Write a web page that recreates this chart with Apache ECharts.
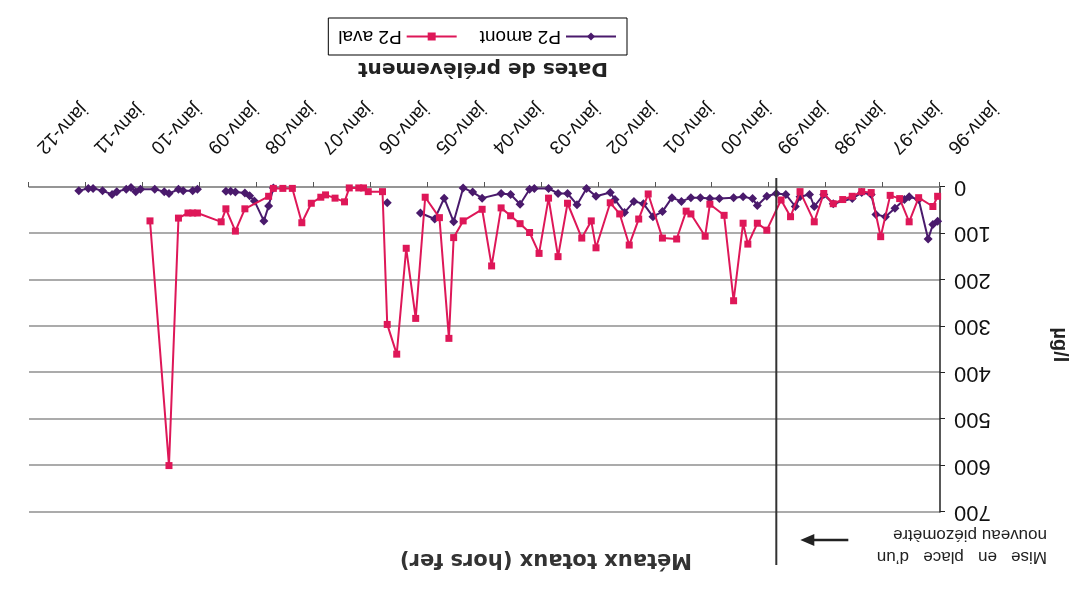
<!DOCTYPE html>
<html>
<head>
<meta charset="utf-8">
<script src="https://cdn.jsdelivr.net/npm/echarts@6/dist/echarts.min.js"></script>
<style>
  html, body { margin: 0; padding: 0; background: #ffffff; }
  #chart { width: 1089px; height: 596px; transform: rotate(180deg); }
</style>
</head>
<body>
<div id="chart"></div>
<script>
// Labels
const titleText = 'Métaux totaux (hors fer)';
const xAxisTitle = 'Dates de prélèvement';
const yAxisTitle = 'µg/l';
const seriesNames = ['P2 amont', 'P2 aval'];
const noteLines = ['Mise   en   place   d\u2019un', 'nouveau piézomètre'];
const noteDate = '1998-11';
const monthPrefix = 'janv-';

// Axis ranges
const yearMin = 1996, yearMax = 2012, yearStep = 1;
const yMin = 0, yMax = 700, yStep = 100;

// P2 amont (sampling month, total metals in µg/l); null marks a break in the record
const amontDates = [
  '1996-01','1996-02','1996-03','1996-05','1996-07','1996-08','1996-10','1996-12',
  '1997-02','1997-03','1997-05','1997-07','1997-11',
  '1998-01','1998-03','1998-04','1998-06','1998-07','1998-09','1998-11',
  '1999-01','1999-03','1999-04','1999-06','1999-08','1999-11',
  '2000-01','2000-03','2000-05','2000-07','2000-09','2000-11',
  '2001-01','2001-03','2001-05','2001-07','2001-09','2001-10',
  '2002-01','2002-03','2002-05','2002-07','2002-09','2002-11',
  '2003-02','2003-03','2003-05','2003-07','2003-09',
  '2004-01','2004-03','2004-05','2004-07','2004-09','2004-11',
  '2005-02','2005-05','2005-09','2006-06',
  '2007-09','2007-10','2007-11','2008-01','2008-02','2008-03','2008-05','2008-06','2008-07','2008-10',
  '2009-01','2009-02','2009-04','2009-05','2009-07','2009-08','2009-10',
  '2010-01','2010-02','2010-03','2010-04','2010-06','2010-07','2010-09','2010-11','2010-12','2011-02'
];
const amontValues = [
  74, 81, 112, 27, 21, 27, 46, 64,
  59, 16, 12, 25, 36,
  16, 42, 16, 21, 42, 16, 14,
  20, 40, 25, 21, 23, 25,
  25, 23, 23, 31, 23, 53,
  64, 36, 31, 55, 27, 12,
  20, 3, 38, 14, 14, 3,
  3, 5, 37, 16, 14,
  24, 11, 2, 75, 24, 69,
  56, null, 34, null,
  2, 41, 73, 30, 19, 13, 11, 9, 9, null,
  5, 8, 8, 5, 14, 10, 5,
  5, 10, 1, 5, 10, 16, 8, 3, 3, 8
];

// P2 aval
const avalDates = [
  '1996-01','1996-02','1996-05','1996-07','1996-09','1996-11',
  '1997-01','1997-03','1997-05','1997-07','1997-09','1997-11',
  '1998-01','1998-03','1998-06','1998-08','1998-10',
  '1999-01','1999-03','1999-05','1999-06','1999-08','1999-10',
  '2000-01','2000-02','2000-05','2000-06','2000-08','2000-11',
  '2001-02','2001-04','2001-06','2001-08','2001-10',
  '2002-01','2002-02','2002-04','2002-07','2002-09','2002-11',
  '2003-01','2003-03','2003-05','2003-07','2003-09','2003-11',
  '2004-01','2004-05','2004-07','2004-08','2004-10',
  '2005-01','2005-03','2005-05','2005-07','2005-09','2005-10',
  '2006-01','2006-02','2006-03','2006-05','2006-06','2006-08','2006-10','2006-11',
  '2007-01','2007-03','2007-05','2007-07','2007-09','2007-10',
  '2008-03','2008-05','2008-07','2008-08',
  '2009-01','2009-02','2009-03','2009-05','2009-07','2009-11',
  '2010-06','2012-01'
];
const avalValues = [
  20, 42, 23, 75, 25, 18,
  107, 12, 10, 20, 27, 36,
  14, 75, 10, 64, 28,
  93, 78, 123, 78, 245, 61,
  37, 106, 58, 52, 112, 110,
  15, 69, 125, 58, 34,
  131, 73, 110, 35, 150, 24,
  143, 98, 79, 62, 45, 170,
  48, 73, 109, 326, 66,
  22, 283, 132, 360, 296, 10,
  10, 2, 2, 2, 32, 24, 17, 22,
  35, 77, 3, 3, 3, 20,
  47, 95, 47, 75,
  56, 56, 56, 67, 600, 73,
  null, 30
];

const purple = '#4a1a6c';
const pink = '#de1758';
const gridGray = '#8f8f8f';

// month string -> fractional year (mid-month)
function toYear(s) {
  const p = s.split('-').map(Number);
  return p[0] + (p[1] - 0.5) / 12;
}
function pairs(dates, vals) {
  return dates.map((d, i) => [toYear(d), vals[i] === null ? '-' : vals[i]]);
}

const chart = echarts.init(document.getElementById('chart'), null, { renderer: 'canvas' });
const baseFont = '"Liberation Sans", Arial, sans-serif';

chart.setOption({
  animation: false,
  backgroundColor: '#ffffff',
  textStyle: { fontFamily: baseFont },
  grid: { left: 149, right: 29, top: 84, bottom: 187, containLabel: false },
  legend: {
    left: 462, top: 541,
    orient: 'horizontal',
    padding: [9, 10, 9, 10],
    itemGap: 22,
    itemWidth: 50, itemHeight: 10,
    borderColor: '#000', borderWidth: 1,
    textStyle: { fontSize: 19, color: '#000', fontFamily: baseFont },
    data: seriesNames
  },
  xAxis: {
    type: 'value',
    min: yearMin, max: yearMax, interval: yearStep,
    axisLine: { show: true, onZero: false, lineStyle: { color: gridGray, width: 1.5 } },
    axisTick: { show: true, inside: false, length: 5, lineStyle: { color: '#555' } },
    axisLabel: {
      rotate: 45, margin: 26, fontSize: 19, color: '#111',
      padding: [0, 15, 0, 0],
      formatter: v => monthPrefix + String(Math.round(v)).slice(2)
    },
    splitLine: { show: false }
  },
  yAxis: {
    type: 'value',
    min: yMin, max: yMax, interval: yStep,
    axisLine: { show: true, lineStyle: { color: '#222', width: 1.5 } },
    axisTick: { show: true, inside: false, length: 5, lineStyle: { color: '#222' } },
    axisLabel: { fontSize: 22, color: '#111', margin: 14 },
    splitLine: { show: true, lineStyle: { color: gridGray, width: 1.5 } }
  },
  series: [
    {
      name: seriesNames[0], type: 'line', z: 2,
      data: pairs(amontDates, amontValues),
      symbol: 'diamond', symbolSize: 9,
      itemStyle: { color: purple },
      lineStyle: { color: purple, width: 2 }
    },
    {
      name: seriesNames[1], type: 'line', z: 3,
      data: pairs(avalDates, avalValues),
      symbol: 'rect', symbolSize: 7,
      itemStyle: { color: pink },
      lineStyle: { color: pink, width: 2 }
    }
  ]
});

// Annotation: vertical marker at the new piezometer date, its arrow and note, plus titles
const px = chart.convertToPixel({ xAxisIndex: 0 }, toYear(noteDate));
const titleFont = 'bold 21px "DejaVu Sans", "Liberation Sans", sans-serif';
chart.setOption({
  graphic: [
    { type: 'line', z: 10, shape: { x1: px, y1: 31, x2: px, y2: 418 }, style: { stroke: '#333', lineWidth: 2 } },
    { type: 'line', z: 10, shape: { x1: px - 72, y1: 56, x2: px - 34, y2: 56 }, style: { stroke: '#222', lineWidth: 2.5 } },
    { type: 'polygon', z: 10, shape: { points: [[px - 24, 56], [px - 38, 50], [px - 38, 62]] }, style: { fill: '#222' } },
    { type: 'text', z: 10, x: 42, y: 39, style: { text: noteLines[0], font: '17px ' + baseFont, fill: '#222', textAlign: 'left', textVerticalAlign: 'middle' } },
    { type: 'text', z: 10, x: 42, y: 61, style: { text: noteLines[1], font: '17px ' + baseFont, fill: '#222', textAlign: 'left', textVerticalAlign: 'middle' } },
    { type: 'text', z: 10, x: 543, y: 37, style: { text: titleText, font: titleFont, fill: '#333', textAlign: 'center', textVerticalAlign: 'middle' } },
    { type: 'text', z: 10, x: 606, y: 528, style: { text: xAxisTitle, font: 'bold 20px "DejaVu Sans", "Liberation Sans", sans-serif', fill: '#222', textAlign: 'center', textVerticalAlign: 'middle' } },
    { type: 'text', z: 10, x: 29, y: 251, rotation: Math.PI / 2, style: { text: yAxisTitle, font: 'bold 20px ' + baseFont, fill: '#222', textAlign: 'center', textVerticalAlign: 'middle' } }
  ]
});
</script>
</body>
</html>
